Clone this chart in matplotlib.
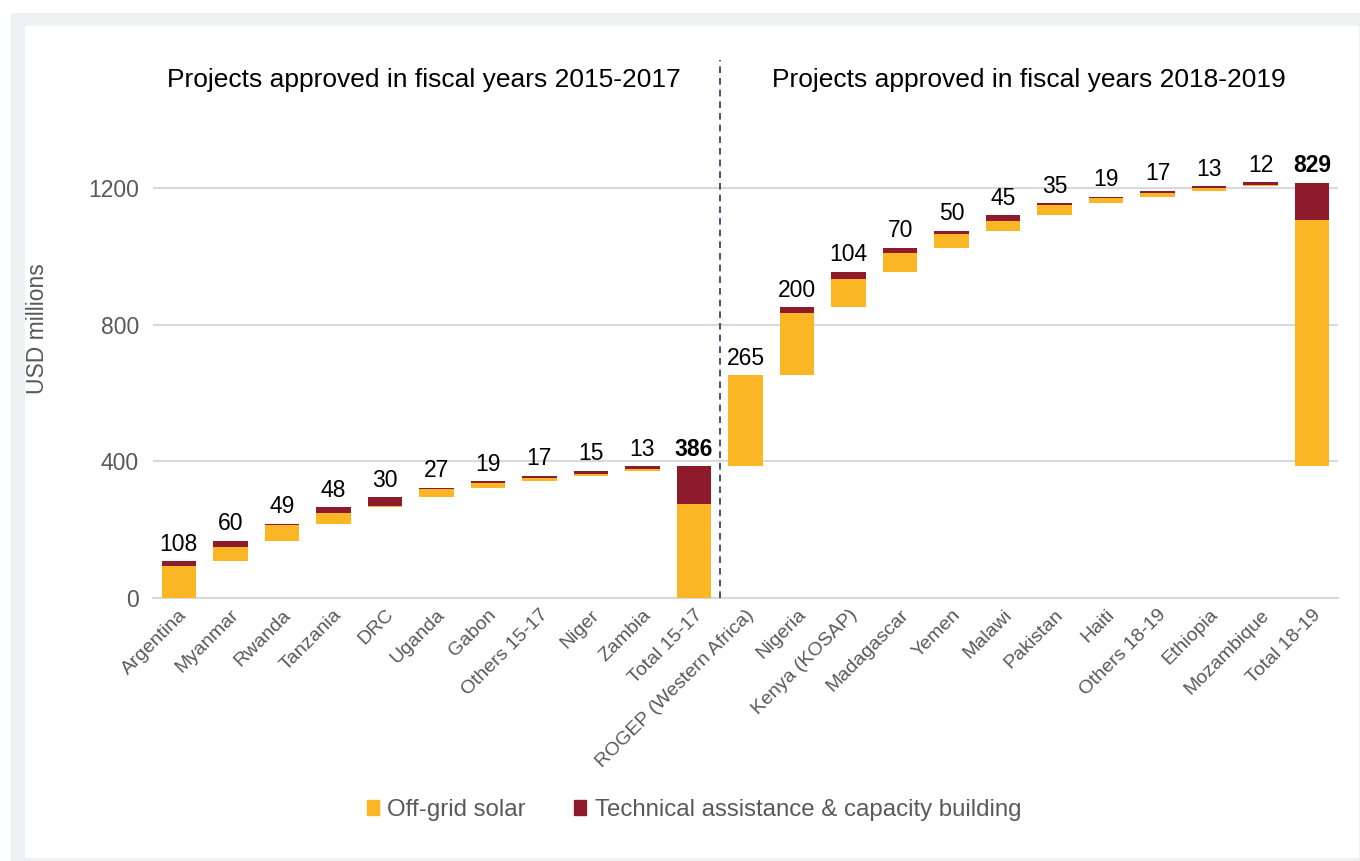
import matplotlib.pyplot as plt
from matplotlib.patches import Rectangle, Patch
import numpy as np

plt.rcParams['font.family'] = ['Liberation Sans', 'DejaVu Sans']

# data
categories = ['Argentina', 'Myanmar', 'Rwanda', 'Tanzania', 'DRC', 'Uganda', 'Gabon',
              'Others 15-17', 'Niger', 'Zambia', 'Total 15-17',
              'ROGEP (Western Africa)', 'Nigeria', 'Kenya (KOSAP)', 'Madagascar', 'Yemen',
              'Malawi', 'Pakistan', 'Haiti', 'Others 18-19', 'Ethiopia', 'Mozambique',
              'Total 18-19']
solar = [93, 40, 45, 32, 5, 24, 13, 11, 4, 5, 274,
         265, 182, 83, 54, 41, 29, 30, 14, 11, 8, 4, 720]
tech_assist = [15, 20, 4, 16, 25, 3, 6, 6, 11, 8, 112,
               0, 18, 21, 16, 9, 16, 5, 5, 6, 5, 8, 109]
labels = ['108', '60', '49', '48', '30', '27', '19', '17', '15', '13', '386',
          '265', '200', '104', '70', '50', '45', '35', '19', '17', '13', '12', '829']
is_total = [False] * 10 + [True] + [False] * 11 + [True]
period_titles = ['Projects approved in fiscal years 2015-2017',
                 'Projects approved in fiscal years 2018-2019']

ORANGE = '#FAB625'
RED = '#8E1B2B'
GREY_TXT = '#595959'

# waterfall bases
bases = []
running = 0
period_start = 0
for s, t, tot in zip(solar, tech_assist, is_total):
    if tot:
        bases.append(period_start)
        period_start = running
    else:
        bases.append(running)
        running += s + t

fig = plt.figure(figsize=(13.6, 8.61), dpi=100)
fig.patches.append(Rectangle((11 / 1360, 0), 1 - 11 / 1360, 1 - 13 / 861,
                             transform=fig.transFigure, color='#EDF1F2', zorder=-2))
fig.patches.append(Rectangle((25 / 1360, 4 / 861), (1358 - 25) / 1360, (857 - 26) / 861,
                             transform=fig.transFigure, color='white', zorder=-1))

ax = fig.add_axes([153 / 1360, 263 / 861, 1185 / 1360, 538 / 861])
ax.patch.set_alpha(0)
x = np.arange(len(categories))
w = 0.67
ax.bar(x, solar, w, bottom=bases, color=ORANGE, zorder=3)
ax.bar(x, tech_assist, w, bottom=np.array(bases) + np.array(solar), color=RED, zorder=3)

for xi, b, s, t, lab, tot in zip(x, bases, solar, tech_assist, labels, is_total):
    ax.annotate(lab, (xi, b + s + t), xytext=(0, 4), textcoords='offset points',
                ha='center', va='bottom', fontsize=16.5,
                fontweight='bold' if tot else 'normal', color='black')

ax.set_xlim(-0.5, len(categories) - 0.5)
ax.set_ylim(0, 1574)
ax.set_yticks([0, 400, 800, 1200])
ax.yaxis.grid(True, color='#D9D9D9', linewidth=1.5, zorder=0)
ax.tick_params(axis='y', length=0, pad=10, labelsize=16.5, labelcolor=GREY_TXT)
ax.tick_params(axis='x', length=0, pad=6, labelsize=14, labelcolor=GREY_TXT)
ax.set_xticks(x)
ax.set_xticklabels(categories, rotation=45, ha='right', rotation_mode='anchor')
for sp in ['top', 'right', 'left']:
    ax.spines[sp].set_visible(False)
ax.spines['bottom'].set_color('#D9D9D9')
ax.spines['bottom'].set_linewidth(1.5)
ax.set_ylabel('USD millions', fontsize=16.5, color=GREY_TXT, labelpad=28)

ax.axvline(10.5, color='#1F3864', linestyle=(0, (4, 3)), linewidth=1.2, zorder=4)

ax.text(4.75, 1516, period_titles[0], ha='center', va='center', fontsize=19, color='black')
ax.text(16.5, 1516, period_titles[1], ha='center', va='center', fontsize=19, color='black')

handles = [Patch(color=ORANGE, label='Off-grid solar'),
           Patch(color=RED, label='Technical assistance & capacity building')]
fig.legend(handles=handles, loc='center', bbox_to_anchor=(694 / 1360, 1 - 810 / 861),
           ncol=2, frameon=False, fontsize=17.3, handlelength=0.5, handleheight=0.62,
           handletextpad=0.35, columnspacing=2.0, labelcolor=GREY_TXT)

fig.savefig('out.png', dpi=100)
